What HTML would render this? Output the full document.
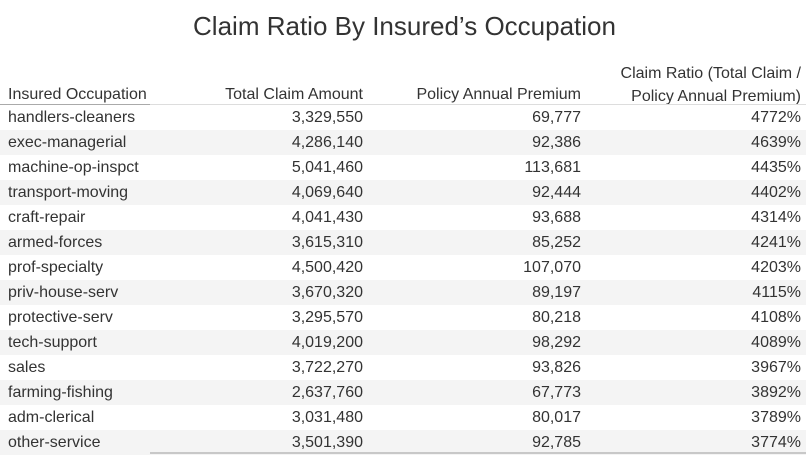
<!DOCTYPE html>
<html><head><meta charset="utf-8"><style>
body{margin:0;width:809px;height:455px;background:#fff;font-family:"Liberation Sans",sans-serif;color:#333;position:relative;overflow:hidden}
.t{position:absolute;left:0;width:809px;top:11px;text-align:center;font-size:26px;color:#333}
.h{position:absolute;font-size:16px;color:#333;white-space:nowrap}
.r{position:absolute;left:0;width:806px;height:25px;font-size:16px}
.r span{position:absolute;top:4px;white-space:nowrap}
.c1{left:8px}.c2{right:443px}.c3{right:225px}.c4{right:5px}
.alt{background:#f4f4f4}
</style></head><body>
<div class="t">Claim Ratio By Insured’s Occupation</div>
<div class="h" style="left:8px;top:86px">Insured Occupation</div>
<div class="h" style="right:446px;top:86px">Total Claim Amount</div>
<div class="h" style="right:228px;top:86px">Policy Annual Premium</div>
<div class="h" style="right:8px;top:62px;text-align:right;line-height:23px">Claim Ratio (Total Claim /<br>Policy Annual Premium)</div>
<div style="position:absolute;left:0;top:104px;width:806px;height:1px;background:#ddd"></div>
<div style="position:absolute;left:0;top:104px;width:150px;height:1px;background:#aaa"></div>
<div id="rows"></div>
<div style="position:absolute;left:150px;top:452px;width:656px;height:2px;background:#c8c8c8"></div>
<script>
const occupations=["handlers-cleaners","exec-managerial","machine-op-inspct","transport-moving","craft-repair","armed-forces","prof-specialty","priv-house-serv","protective-serv","tech-support","sales","farming-fishing","adm-clerical","other-service"];
const claims=["3,329,550","4,286,140","5,041,460","4,069,640","4,041,430","3,615,310","4,500,420","3,670,320","3,295,570","4,019,200","3,722,270","2,637,760","3,031,480","3,501,390"];
const premiums=["69,777","92,386","113,681","92,444","93,688","85,252","107,070","89,197","80,218","98,292","93,826","67,773","80,017","92,785"];
const ratios=["4772%","4639%","4435%","4402%","4314%","4241%","4203%","4115%","4108%","4089%","3967%","3892%","3789%","3774%"];
const host=document.getElementById('rows');
occupations.forEach((o,i)=>{
 const r=document.createElement('div');
 r.className='r'+(i%2?' alt':'');
 r.style.top=(105+i*25)+'px';
 
 
 [[o,'c1'],[claims[i],'c2'],[premiums[i],'c3'],[ratios[i],'c4']].forEach(([v,c])=>{
  const s=document.createElement('span');s.className=c;s.textContent=v;
  
  
  r.appendChild(s);
 });
 host.appendChild(r);
});
</script>
</body></html>
